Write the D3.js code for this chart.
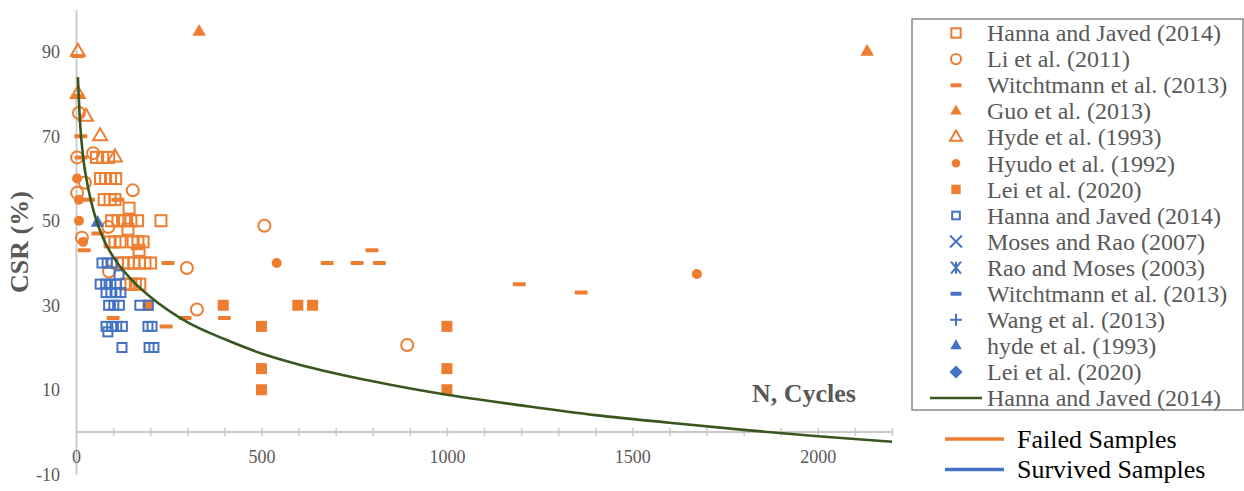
<!DOCTYPE html>
<html>
<head>
<meta charset="utf-8">
<script src="https://cdn.jsdelivr.net/npm/d3@7"></script>
<style>
  html, body { margin: 0; padding: 0; background: #ffffff; }
  svg { display: block; }
  text { font-family: "Liberation Serif", "Times New Roman", serif; }
</style>
</head>
<body>
<svg id="chart" width="1244" height="491"></svg>
<script>
// ---------------- data (N cycles, CSR %) ----------------
const hannaFailed = [
  [55,65],[72,65],[88,65],
  [66,60],[80,60],[93,60],[107,60],
  [76,55],[92,55],[105,55],
  [143,53],
  [96,50],[113,50],[131,50],[148,50],[166,50],[229,50],
  [140,48],
  [92,45],[105,45],[119,45],[154,45],[167,45],[181,45],
  [170,43],
  [112,40],[127,40],[141,40],[156,40],[171,40],[186,40],[201,40],
  [135,35],[148,35],[160,35],[172,35]
];
const liFailed = [[8,75.5],[3,65],[46,66],[24,59],[3,56.6],[153,57.2],[508,48.8],[16,46],[87,48.5],[89,38],[299,38.8],[326,29],[893,20.6]];
const witchFailed = [[5,89],[5,79.5],[13,70],[14,65],[34,55],[113,55],[59,47],[22,43],[165,43.5],[248,40],[100,27],[243,25],[294,27],[400,27],[677,40],[758,40],[798,43],[818,40],[1195,35],[1362,33]];
const guoFailed = [[332,94.7],[2133,90]];
const hydeFailed = [[5,90],[5,80],[27,74.6],[65,70],[105,65]];
const hyudoFailed = [[3,60],[8,55],[8,50],[19,45],[541,40],[1674,37.4]];
const leiFailed = [[195,30],[397,30],[500,25],[500,15],[500,10],[598,30],[638,30],[1000,25],[1000,15],[1000,10]];
const hannaSurvived = [
  [70,40],[84,40],[97,40],
  [116,37.2],
  [65,35],[80,35],[94,35],[109,35],
  [81,33],[94,33],[108,33],[121,33],
  [88,30],[102,30],[117,30],[172,30],[195,30],
  [81,25],[96,25],[110,25],[125,25],[194,25],[205,25],
  [86,23.7],
  [124,20],[197,20],[210,20]
];
const hydeSurvived = [[58,49.5]];
const fitN   = [5, 10, 20, 30, 50, 75, 100, 150, 200, 300, 400, 500, 600, 800, 1000, 1200, 1400, 1600, 1800, 2000, 2200];
const fitCSR = [84, 74.5, 64.5, 59, 51.5, 45.5, 41.5, 36, 32, 26, 22, 18.6, 16, 12, 8.8, 6.3, 4, 2.2, 0.5, -1, -2.3];

const yTicks = [-10, 10, 30, 50, 70, 90];
const xMajor = [0, 500, 1000, 1500, 2000];

const legendLabels = [
  "Hanna and Javed (2014)", "Li et al. (2011)", "Witchtmann et al. (2013)", "Guo et al. (2013)",
  "Hyde et al. (1993)", "Hyudo et al. (1992)", "Lei et al. (2020)", "Hanna and Javed (2014)",
  "Moses and Rao (2007)", "Rao and Moses (2003)", "Witchtmann et al. (2013)", "Wang et al. (2013)",
  "hyde et al. (1993)", "Lei et al. (2020)", "Hanna and Javed (2014)"
];
const legendSymbols = ["osq","ocirc","dash","ftri","otri","fcirc","fsq","bsq","times","aster","bdash","plus","btri","diamond","line"];
const groupLabels = ["Failed Samples", "Survived Samples"];

// ---------------- drawing ----------------
const SERIF = '"Liberation Serif", "Times New Roman", serif';
const ORANGE = "#ED7D31", BLUE = "#4472C4", GREEN = "#38571F", TXT = "#595959", AX = "#C8C8C8";
const svg = d3.select("#chart");
const x = d3.scaleLinear().domain([0, 2200]).range([76, 892]);
const y = d3.scaleLinear().domain([-10, 100]).range([474.25, 9.5]);

// y axis
const yAxis = d3.axisLeft(y).tickValues(yTicks).tickSize(0).tickPadding(16).tickFormat(d => String(d));
const gy = svg.append("g").attr("transform", `translate(${x(0)},0)`).call(yAxis);
gy.attr("font-family", SERIF).attr("font-size", 18);
gy.select(".domain").attr("stroke", AX).attr("stroke-width", 1.8);
gy.selectAll("text").attr("fill", TXT).style("font-family", SERIF).style("font-size", "18px");

// x axis at y=0
const xAll = d3.range(0, 2201, 100);
const xAxis = d3.axisBottom(x).tickValues(xAll).tickSize(4).tickPadding(14)
  .tickFormat(d => xMajor.includes(d) ? String(d) : "");
const gx = svg.append("g").attr("transform", `translate(0,${y(0)})`).call(xAxis);
gx.attr("font-family", SERIF).attr("font-size", 18);
gx.select(".domain").attr("stroke", AX).attr("stroke-width", 1.8).attr("d", `M${x(0)},0H${x(2200)}`);
gx.selectAll(".tick line").attr("stroke", AX).attr("stroke-width", 1.5).attr("y1", -4).attr("y2", 4);
gx.selectAll(".tick").filter(d => d === 0).select("line").remove();
gx.selectAll("text").attr("fill", TXT).style("font-family", SERIF).style("font-size", "18px");

// axis titles
svg.append("text").attr("transform", "translate(19,242) rotate(-90)").attr("text-anchor", "middle")
  .attr("dy", "0.35em").attr("fill", TXT).style("font-family", SERIF)
  .style("font-size", "26px").style("font-weight", "bold").text("CSR (%)");
svg.append("text").attr("x", 752).attr("y", 402).attr("fill", TXT).style("font-family", SERIF)
  .style("font-size", "26px").style("font-weight", "bold").text("N, Cycles");

// marker drawing
function drawMarker(g, type, cx, cy, scale) {
  const s = scale || 1;
  switch (type) {
    case "osq": g.append("rect").attr("x", cx - 5.5*s).attr("y", cy - 5.5*s).attr("width", 11*s).attr("height", 11*s)
      .attr("fill", "none").attr("stroke", ORANGE).attr("stroke-width", 2); break;
    case "bsq": g.append("rect").attr("x", cx - 4.5*s).attr("y", cy - 4.5*s).attr("width", 9*s).attr("height", 9*s)
      .attr("fill", "none").attr("stroke", BLUE).attr("stroke-width", 2); break;
    case "ocirc": g.append("circle").attr("cx", cx).attr("cy", cy).attr("r", 6*s)
      .attr("fill", "none").attr("stroke", ORANGE).attr("stroke-width", 2); break;
    case "fcirc": g.append("circle").attr("cx", cx).attr("cy", cy).attr("r", 5*s).attr("fill", ORANGE); break;
    case "fsq": g.append("rect").attr("x", cx - 5.5*s).attr("y", cy - 5.5*s).attr("width", 11*s).attr("height", 11*s).attr("fill", ORANGE); break;
    case "dash": g.append("rect").attr("x", cx - 6.5*s).attr("y", cy - 2).attr("width", 13*s).attr("height", 4).attr("rx", 1).attr("fill", ORANGE); break;
    case "bdash": g.append("rect").attr("x", cx - 6.5*s).attr("y", cy - 2).attr("width", 13*s).attr("height", 4).attr("rx", 1).attr("fill", BLUE); break;
    case "ftri": g.append("path").attr("transform", `translate(${cx},${cy})`)
      .attr("d", d3.symbol(d3.symbolTriangle, 80*s*s)()).attr("fill", ORANGE); break;
    case "btri": g.append("path").attr("transform", `translate(${cx},${cy})`)
      .attr("d", d3.symbol(d3.symbolTriangle, 80*s*s)()).attr("fill", BLUE); break;
    case "otri": g.append("path").attr("transform", `translate(${cx},${cy})`)
      .attr("d", d3.symbol(d3.symbolTriangle, 85*s*s)()).attr("fill", "none").attr("stroke", ORANGE).attr("stroke-width", 2); break;
    case "diamond": g.append("path").attr("transform", `translate(${cx},${cy})`)
      .attr("d", `M0,-6.5L6.5,0L0,6.5L-6.5,0Z`).attr("fill", BLUE); break;
    case "times": g.append("path").attr("d", `M${cx-6},${cy-6}L${cx+6},${cy+6}M${cx+6},${cy-6}L${cx-6},${cy+6}`)
      .attr("stroke", BLUE).attr("stroke-width", 2); break;
    case "aster": g.append("path").attr("d", `M${cx-5},${cy-6}L${cx+5},${cy+6}M${cx+5},${cy-6}L${cx-5},${cy+6}M${cx},${cy-6}L${cx},${cy+6}`)
      .attr("stroke", BLUE).attr("stroke-width", 2); break;
    case "plus": g.append("path").attr("d", `M${cx-6},${cy}L${cx+6},${cy}M${cx},${cy-6}L${cx},${cy+6}`)
      .attr("stroke", BLUE).attr("stroke-width", 2); break;
    case "line": g.append("line").attr("x1", cx - 26).attr("x2", cx + 26).attr("y1", cy).attr("y2", cy)
      .attr("stroke", GREEN).attr("stroke-width", 2.5); break;
  }
}

const plot = svg.append("g");
const series = [
  [hannaFailed, "osq"], [liFailed, "ocirc"], [witchFailed, "dash"], [guoFailed, "ftri"],
  [hydeFailed, "otri"], [hyudoFailed, "fcirc"], [leiFailed, "fsq"], [hannaSurvived, "bsq"],
  [hydeSurvived, "btri"]
];
series.forEach(([data, type]) => {
  const g = plot.append("g");
  data.forEach(d => drawMarker(g, type, x(d[0]), y(d[1]), 1));
});

// fitted curve
const fit = fitN.map((n, i) => [n, fitCSR[i]]);
plot.append("path").datum(fit)
  .attr("d", d3.line().x(d => x(d[0])).y(d => y(d[1])).curve(d3.curveMonotoneX))
  .attr("fill", "none").attr("stroke", GREEN).attr("stroke-width", 2.6);

// legend
const lg = svg.append("g");
lg.append("rect").attr("x", 912).attr("y", 19).attr("width", 331).attr("height", 391)
  .attr("fill", "white").attr("stroke", "#888888").attr("stroke-width", 1.5);
legendLabels.forEach((lab, i) => {
  const cy = 33 + i * 26.07;
  drawMarker(lg, legendSymbols[i], 956, cy, 0.85);
  lg.append("text").attr("x", 987).attr("y", cy).attr("dy", "0.34em").attr("fill", TXT)
    .style("font-family", SERIF).style("font-size", "24px").text(lab);
});

// group legend
const gl = svg.append("g");
groupLabels.forEach((lab, i) => {
  const cy = 439 + i * 30.5;
  gl.append("line").attr("x1", 945).attr("x2", 1004).attr("y1", cy).attr("y2", cy)
    .attr("stroke", i === 0 ? ORANGE : BLUE).attr("stroke-width", 3.5);
  gl.append("text").attr("x", 1017).attr("y", cy).attr("dy", "0.33em").attr("fill", "#000000")
    .style("font-family", SERIF).style("font-size", "26px").text(lab);
});
</script>
</body>
</html>
